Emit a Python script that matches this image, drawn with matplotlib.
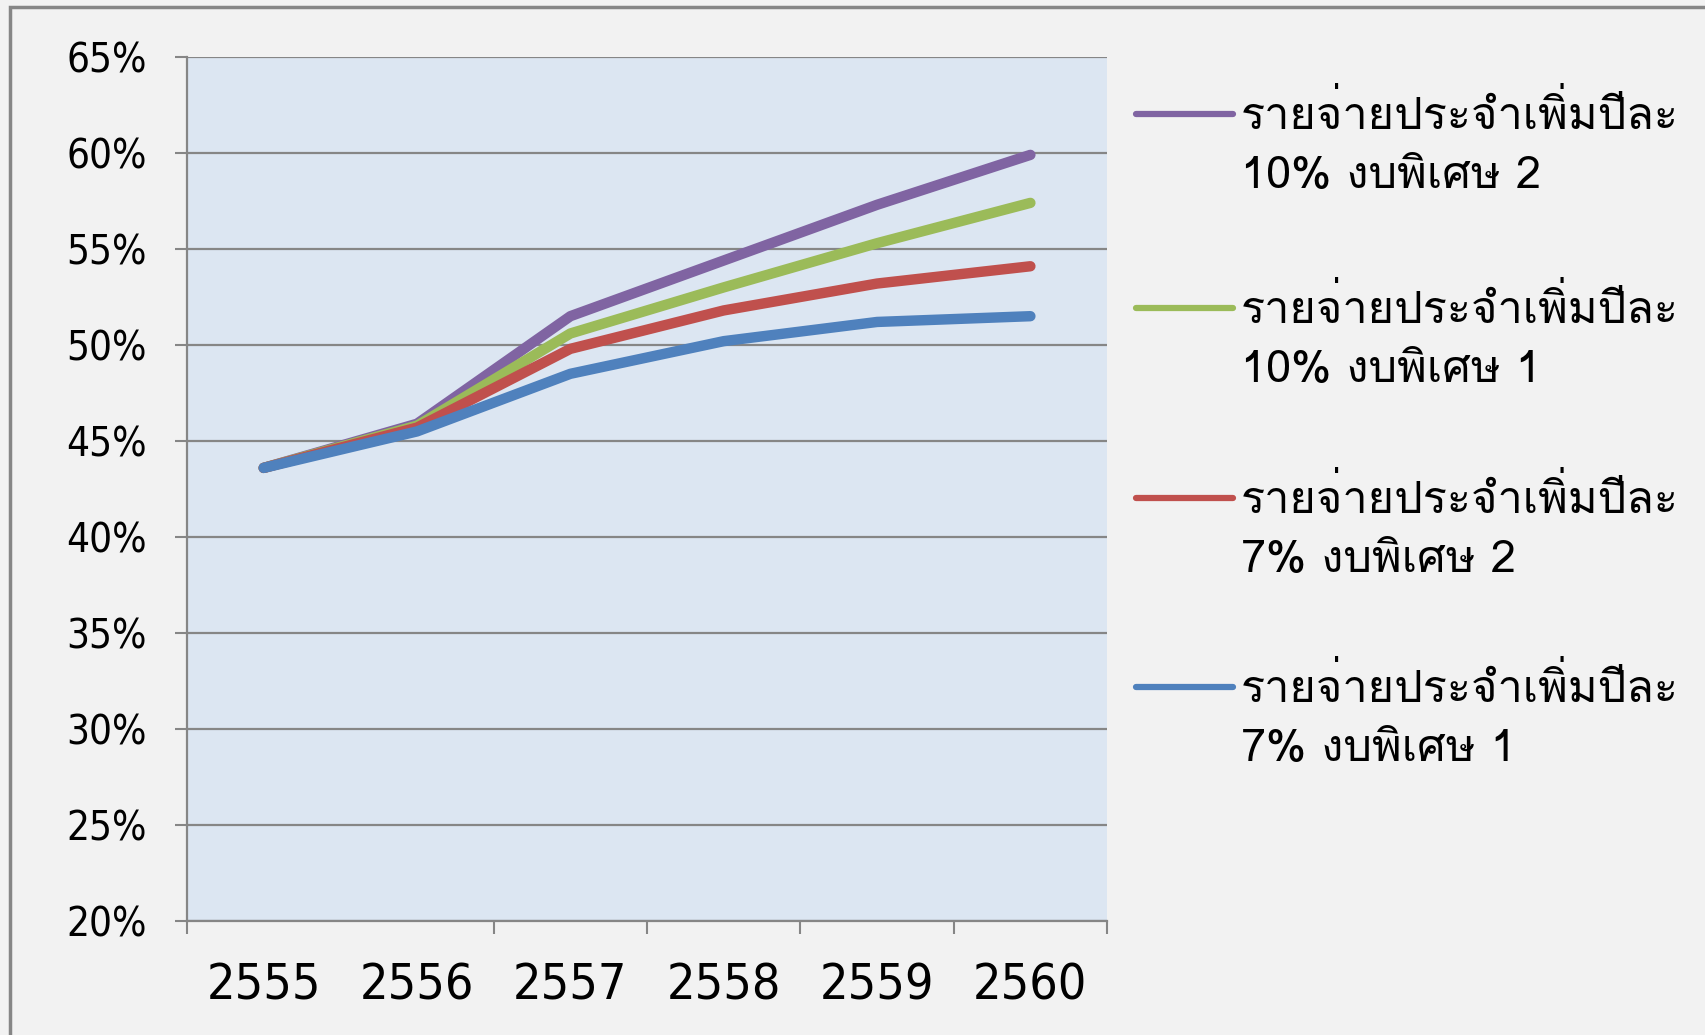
import matplotlib
matplotlib.use("Agg")
import matplotlib.pyplot as plt
from matplotlib import font_manager as fm, ft2font
from matplotlib.lines import Line2D
from matplotlib.patches import Rectangle

# data
years = ["2555", "2556", "2557", "2558", "2559", "2560"]
exp10_b2 = [43.6, 45.9, 51.5, 54.4, 57.3, 59.9]
exp10_b1 = [43.6, 45.8, 50.6, 53.0, 55.3, 57.4]
exp7_b2 = [43.6, 45.7, 49.8, 51.8, 53.2, 54.1]
exp7_b1 = [43.6, 45.5, 48.5, 50.2, 51.2, 51.5]
labels = [
    "รายจ่ายประจำเพิ่มปีละ\n10% งบพิเศษ 2",
    "รายจ่ายประจำเพิ่มปีละ\n10% งบพิเศษ 1",
    "รายจ่ายประจำเพิ่มปีละ\n7% งบพิเศษ 2",
    "รายจ่ายประจำเพิ่มปีละ\n7% งบพิเศษ 1",
]
y_ticks = [20, 25, 30, 35, 40, 45, 50, 55, 60, 65]
colors = ["#8064A2", "#9BBB59", "#C0504D", "#4F81BD"]

# find something that can draw Thai
thai_font = None
for f in fm.fontManager.ttflist:
    try:
        if 0x0E23 in ft2font.FT2Font(f.fname).get_charmap():
            thai_font = f.name
            break
    except Exception:
        pass
fams = ([thai_font] if thai_font else []) + ["DejaVu Sans"]

grid_c = "#868686"

fig = plt.figure(figsize=(17.05, 10.35), dpi=100, facecolor="#F2F2F2")
ax = fig.add_axes([0.1097, 0.110, 0.5396, 0.835])
ax.set_facecolor("#DCE6F2")

x = list(range(len(years)))
# blue goes on last so it sits on top, like the original
for vals, c in zip([exp10_b2, exp10_b1, exp7_b2, exp7_b1], colors):
    ax.plot(x, vals, color=c, lw=7.5, solid_capstyle="round", solid_joinstyle="round")

ax.set_xlim(-0.5, 5.5)
ax.set_ylim(20, 65)
ax.set_yticks(y_ticks)
ax.set_yticklabels([f"{v}%" for v in y_ticks], fontsize=29, fontstretch="condensed")
ax.set_xticks([-0.5, 1.5, 2.5, 3.5, 4.5, 5.5])
ax.set_xticklabels([])
ax.set_xticks(x, minor=True)
ax.set_xticklabels(years, minor=True, fontsize=36, fontstretch="condensed")
ax.tick_params(axis="x", which="major", length=9, width=1.5, color=grid_c, direction="out")
ax.tick_params(axis="x", which="minor", length=0, pad=29)
ax.tick_params(axis="y", length=9, width=1.5, color=grid_c, pad=20)
ax.yaxis.grid(True, color=grid_c, lw=1.6)
ax.set_axisbelow(True)
for s in ["top", "right"]:
    ax.spines[s].set_visible(False)
for s in ["left", "bottom"]:
    ax.spines[s].set_color(grid_c)
    ax.spines[s].set_linewidth(1.6)

# legend drawn by hand: handle sits beside the first text line
ys = [0.8897, 0.7027, 0.5189, 0.3361]
for yy, c, lab in zip(ys, colors, labels):
    fig.add_artist(Line2D([0.666, 0.723], [yy, yy], color=c, lw=4.5, solid_capstyle="round"))
    fig.text(0.728, yy + 0.021, lab, family=fams, fontsize=32.5, va="top",
             ha="left", linespacing=1.55, transform=fig.transFigure)

fig.add_artist(Rectangle((0.006, -0.1), 1.2, 1.093, transform=fig.transFigure,
                         fill=False, ec=grid_c, lw=2.5))

fig.savefig("out.png", dpi=100, facecolor=fig.get_facecolor())
